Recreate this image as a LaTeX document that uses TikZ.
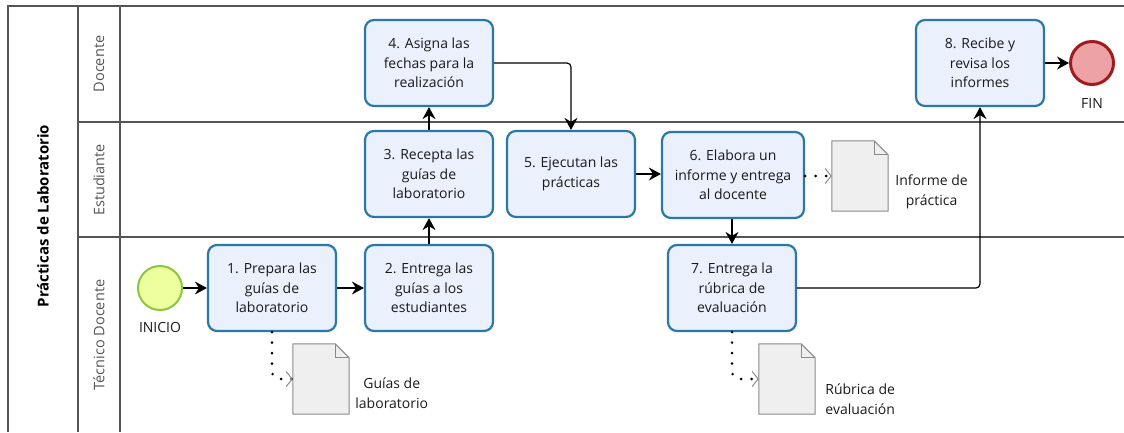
\documentclass[tikz,border=0pt]{standalone}
\usepackage{fontspec}
\setmainfont{Open Sans}
\usetikzlibrary{arrows.meta, positioning, calc}
\definecolor{taskblue}{HTML}{2A78A8}
\definecolor{taskfill}{HTML}{EAF0FC}
\definecolor{lanegray}{HTML}{555555}
\definecolor{docgray}{HTML}{8A8A8A}
\definecolor{docfill}{HTML}{EFEFEF}
\definecolor{startgreen}{HTML}{8CC63E}
\definecolor{startfill}{HTML}{EEFFA0}
\definecolor{endred}{HTML}{A31A1E}
\definecolor{endfill}{HTML}{EDA3A6}
\definecolor{textdark}{HTML}{1A1A1A}

\tikzset{
  task/.style={draw=taskblue, fill=taskfill, line width=2.2pt, rounded corners=9pt,
    minimum width=128pt, minimum height=86pt, align=center, text=textdark,
    font=\fontsize{14}{19.5}\selectfont, inner sep=2pt},
  flow/.style={draw=black, line width=1.2pt, rounded corners=4pt,
    -{Stealth[length=12pt,width=13pt,inset=4pt]}},
  assoc/.style={draw=black, line width=2.8pt, line cap=round, dash pattern=on 0pt off 10.5pt,
    rounded corners=8pt, -{Straight Barb[color=docgray,length=6pt,width=15pt,line width=1pt]}},
  docbox/.style={minimum width=56pt, minimum height=70pt, inner sep=0pt},
  doclabel/.style={align=center, text=textdark, inner sep=0pt,
    font=\fontsize{14}{19.5}\selectfont},
  evlabel/.style={text=textdark, font=\fontsize{14}{16}\selectfont},
  lanelabel/.style={rotate=90, text=lanegray, font=\fontsize{14.5}{16}\selectfont},
  lane/.style={draw=lanegray, line width=1.2pt},
}
% document shape with folded corner
\newcommand{\docfold}[1]{%
  \draw[docgray, fill=docfill, line width=1pt] (#1.south west) -- (#1.north west)
    -- ([xshift=-14pt]#1.north east) -- ([yshift=-14pt]#1.north east) -- (#1.south east) -- cycle;
  \draw[docgray, line width=1pt] ([xshift=-14pt]#1.north east) |- ([yshift=-14pt]#1.north east);
}

\begin{document}
\begin{tikzpicture}[x=1pt, y=-1pt]
  \useasboundingbox (0,0) rectangle (1124,432);

  % Pool and lanes
  \draw[lane] (1124,6) -- (8,6) -- (8,432);
  \draw[lane] (78,6) -- (78,432);
  \draw[lane] (120,6) -- (120,432);
  \draw[lane] (78,122) -- (1124,122);
  \draw[lane] (78,237) -- (1124,237);

  \node[rotate=90, text=black, font=\fontsize{15}{16}\selectfont\bfseries] (pool) at (43,216) {Prácticas de Laboratorio};
  \node[lanelabel] (docente) at (99,64) {Docente};
  \node[lanelabel] (estudiante) at (99,180) {Estudiante};
  \node[lanelabel] (tecnico) at (99,335) {Técnico Docente};

  % Events
  \node[circle, minimum size=44pt, inner sep=0pt, draw=startgreen, fill=startfill, line width=2pt] (inicio) at (160,288) {};
  \node[evlabel, below=8pt of inicio] (iniciolbl) {INICIO};
  \node[circle, minimum size=43pt, inner sep=0pt, draw=endred, fill=endfill, line width=3pt] (fin) at (1092,63) {};
  \node[evlabel, below=9pt of fin] (finlbl) {FIN};

  % Tasks
  \node[task] (t1) at (272,288) {1. Prepara las\\guías de\\laboratorio};
  \node[task] (t2) at (429,288) {2. Entrega las\\guías a los\\estudiantes};
  \node[task] (t3) at (429,174) {3. Recepta las\\guías de\\laboratorio};
  \node[task] (t4) at (429,63) {4. Asigna las\\fechas para la\\realización};
  \node[task] (t5) at (571,174) {5. Ejecutan las\\prácticas};
  \node[task, minimum width=142pt] (t6) at (733,175) {6. Elabora un\\informe y entrega\\al docente};
  \node[task] (t7) at (732,288) {7. Entrega la\\rúbrica de\\evaluación};
  \node[task] (t8) at (980,63) {8. Recibe y\\revisa los\\informes};

  % Data objects
  \node[docbox] (d1) at (321,379) {};
  \node[docbox] (d2) at (860,176) {};
  \node[docbox] (d3) at (787,379) {};
  \docfold{d1}
  \docfold{d2}
  \docfold{d3}
  \node[doclabel, anchor=west] (d1lbl) at ([xshift=6pt,yshift=-14pt]d1.east) {Guías de\\laboratorio};
  \node[doclabel, anchor=west] (d2lbl) at ([xshift=7pt,yshift=-16pt]d2.east) {Informe de\\práctica};
  \node[doclabel, anchor=west] (d3lbl) at ([xshift=10pt,yshift=-20pt]d3.east) {Rúbrica de\\evaluación};

  % Sequence flows
  \draw[flow] (inicio) -- (t1);
  \draw[flow] (t1) -- (t2);
  \draw[flow] (t2) -- (t3);
  \draw[flow] (t3) -- (t4);
  \draw[flow] (t4.east) -| (t5.north);
  \draw[flow] (t5) -- (t6.west |- t5.east);
  \draw[flow] (t6.south -| t7.north) -- (t7.north);
  \draw[flow] (t7.east) -| (t8.south);
  \draw[flow] (t8) -- (fin);

  % Associations
  \draw[assoc] (t1.south) |- (d1.west);
  \draw[assoc] (t6.east |- d2.west) -- (d2.west);
  \draw[assoc] (t7.south) |- (d3.west);
\end{tikzpicture}
\end{document}
